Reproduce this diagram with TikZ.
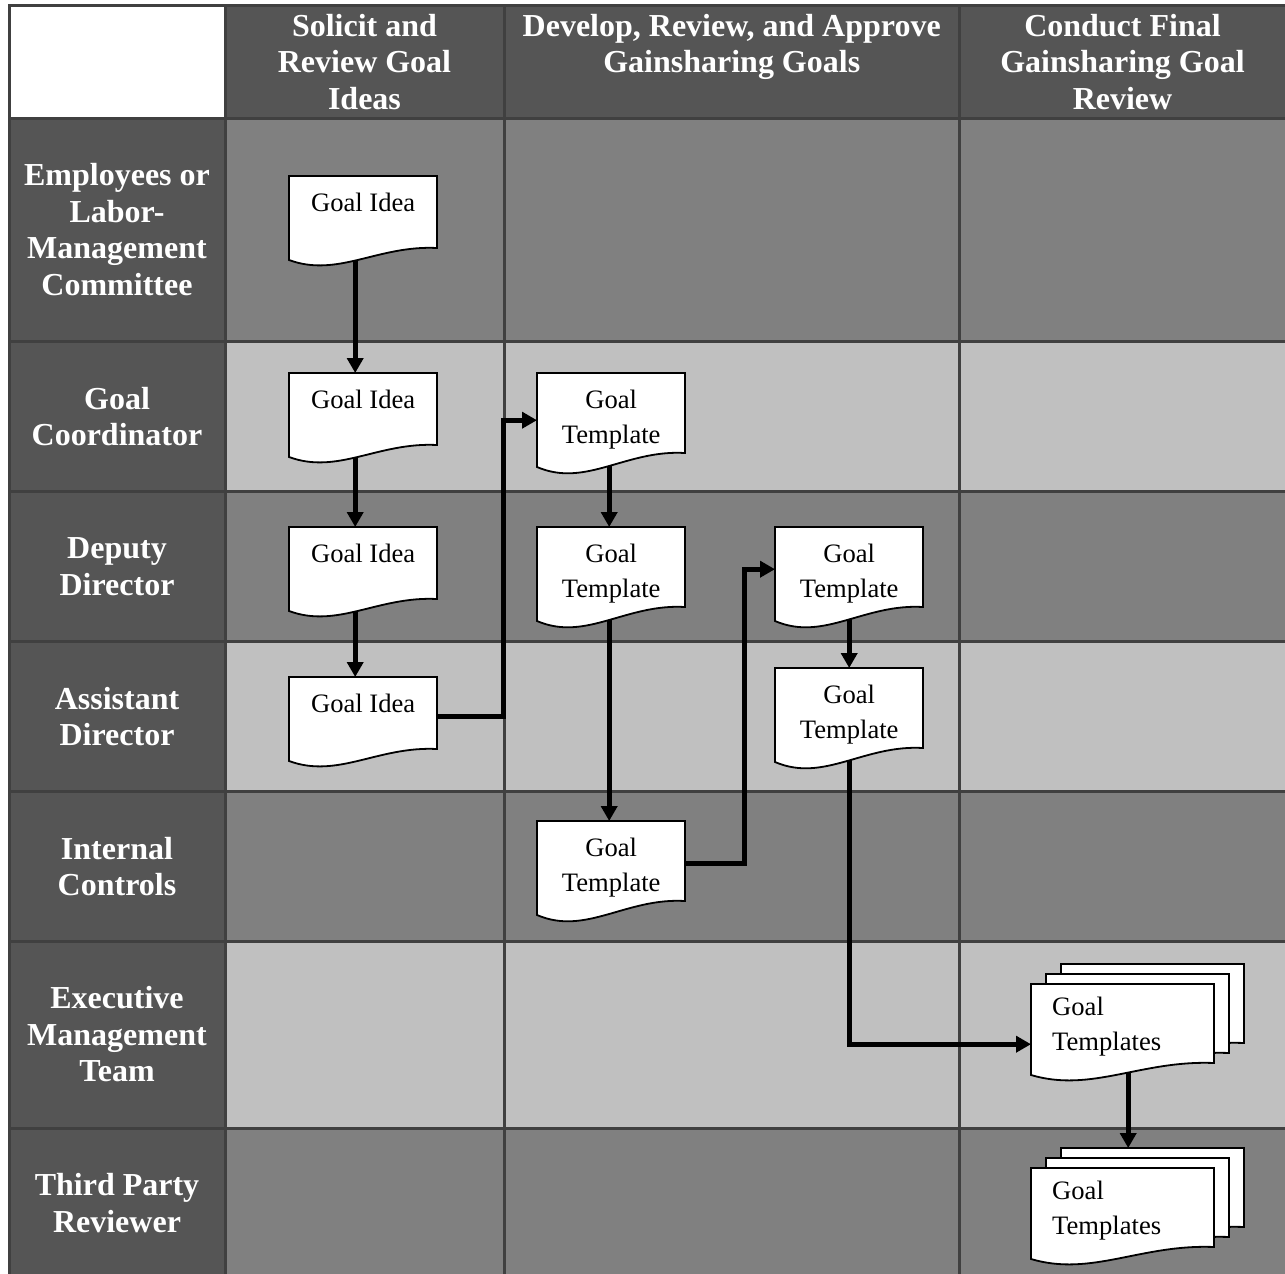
\documentclass[tikz,border=0pt]{standalone}
\usepackage{fontspec}
\setmainfont{Liberation Serif}
\usetikzlibrary{arrows.meta}
\pgfdeclarelayer{bg}
\pgfdeclarelayer{conn}
\pgfsetlayers{bg,conn,main}
\definecolor{hdr}{HTML}{555555}
\definecolor{dk}{HTML}{808080}
\definecolor{lt}{HTML}{C0C0C0}
\definecolor{gl}{HTML}{404040}
\tikzset{
  lanetext/.style={text=white, font=\bfseries\fontsize{32pt}{36.5pt}\selectfont, align=center, inner sep=0pt},
  docbox/.style={inner sep=0pt, font=\fontsize{26.6pt}{35pt}\selectfont, anchor=north west},
  docline/.style={fill=white, draw=black, line width=1.8pt, line join=miter},
  conn/.style={line width=4.8pt, line join=miter, -{Triangle[width=16pt,length=15pt]}},
  gridline/.style={draw=gl, line width=3pt},
}
% #1 x, #2 y (top-left), #3 width, #4 height at right side, #5 wave offset
\newcommand{\docshape}[5]{%
  \filldraw[docline] (#1,#2) -- (#1+#3,#2) -- (#1+#3,#2+#4)
    .. controls (#1+0.6*#3,#2+#4-0.25*#5) and (#1+0.33*#3,#2+#4+2.5*#5) .. (#1,#2+#4+#5) -- cycle;}
\newcommand{\ideadoc}[3]{%
  \docshape{#2}{#3}{148}{72}{12}
  \node[docbox] (#1) at (#2,#3) {\parbox[b][72pt][t]{148pt}{\centering\rule{0pt}{35pt}Goal Idea}};}
\newcommand{\templdoc}[3]{%
  \docshape{#2}{#3}{148}{80}{14}
  \node[docbox] (#1) at (#2,#3) {\parbox[b][80pt][t]{148pt}{\centering\rule{0pt}{35pt}Goal\\Template}};}
\newcommand{\multidoc}[3]{%
  \docshape{#2+30}{#3-20}{183}{79}{12}
  \node[docbox, minimum width=183pt, minimum height=79pt] (#1b) at (#2+30,#3-20) {};
  \docshape{#2+15}{#3-10}{183}{79}{12}
  \docshape{#2}{#3}{183}{79}{12}
  \node[docbox] (#1) at (#2,#3) {\parbox[b][79pt][t]{183pt}{\raggedright\leftskip=21pt\rule{0pt}{31pt}Goal\\Templates}};}
\begin{document}
\begin{tikzpicture}[x=1pt,y=-1pt]
\useasboundingbox (0,0) rectangle (1285,1274);
\begin{pgfonlayer}{bg}
  \fill[white] (0,0) rectangle (1285,1274);
  \fill[hdr] (225,5.5) rectangle (1290,118);
  \fill[hdr] (9.5,118) rectangle (225,1280);
  \fill[dk] (225,118) rectangle (1290,341.5);
  \fill[lt] (225,341.5) rectangle (1290,491.5);
  \fill[dk] (225,491.5) rectangle (1290,641);
  \fill[lt] (225,641) rectangle (1290,791);
  \fill[dk] (225,791) rectangle (1290,941);
  \fill[lt] (225,941) rectangle (1290,1128);
  \fill[dk] (225,1128) rectangle (1290,1280);
  \foreach \yy in {5.5,118,341.5,491.5,641,791,941,1128}
    \draw[gridline] (8,\yy) -- (1290,\yy);
  \foreach \xx in {9.5,225,504,959.5}
    \draw[gridline] (\xx,4) -- (\xx,1280);
\end{pgfonlayer}

% header texts
\node[lanetext, anchor=north] (h1) at (364.5,11) {\rule{0pt}{25pt}Solicit and\\Review Goal\\Ideas};
\node[lanetext, anchor=north] (h2) at (731.75,11) {\rule{0pt}{25pt}Develop, Review, and Approve\\Gainsharing Goals};
\node[lanetext, anchor=north] (h3) at (1122.5,11) {\rule{0pt}{25pt}Conduct Final\\Gainsharing Goal\\Review};

% lane labels
\node[lanetext] (l1) at (117,229.75) {Employees or\\Labor-\\Management\\Committee};
\node[lanetext] (l2) at (117,416.5) {Goal\\Coordinator};
\node[lanetext] (l3) at (117,566.5) {Deputy\\Director};
\node[lanetext] (l4) at (117,716.5) {Assistant\\Director};
\node[lanetext] (l5) at (117,866.5) {Internal\\Controls};
\node[lanetext] (l6) at (117,1034.5) {Executive\\Management\\Team};
\node[lanetext] (l7) at (117,1203) {Third Party\\Reviewer};

% documents
\ideadoc{d1}{289}{176}
\ideadoc{d2}{289}{373}
\ideadoc{d3}{289}{527}
\ideadoc{d4}{289}{677}
\templdoc{t1}{537}{373}
\templdoc{t2}{537}{527}
\templdoc{t3}{537}{821}
\templdoc{t4}{775}{527}
\templdoc{t5}{775}{668}
\multidoc{m1}{1031}{984}
\multidoc{m2}{1031}{1168}
\coordinate (m1out) at ([xshift=5.5pt]m1.south);

% connectors
\begin{pgfonlayer}{conn}
  \draw[conn] ([xshift=-8pt]d1.south) -- ([xshift=-8pt]d2.north);
  \draw[conn] ([xshift=-8pt]d2.south) -- ([xshift=-8pt]d3.north);
  \draw[conn] ([xshift=-8pt]d3.south) -- ([xshift=-8pt]d4.north);
  \draw[conn] ([yshift=-3pt]d4.east) -- ++(66,0) |- ([yshift=-7pt]t1.west);
  \draw[conn] ([xshift=-2pt]t1.south) -- ([xshift=-2pt]t2.north);
  \draw[conn] ([xshift=-2pt]t2.south) -- ([xshift=-2pt]t3.north);
  \draw[conn] ([yshift=-2pt]t3.east) -- ++(59,0) |- ([yshift=-2pt]t4.west);
  \draw[conn] (t4.south) -- (t5.north);
  \draw[conn] (t5.south) |- ([yshift=-20.5pt]m1.west);
  \draw[conn] (m1out) -- (m1out |- m2b.north);
\end{pgfonlayer}
\end{tikzpicture}
\end{document}
